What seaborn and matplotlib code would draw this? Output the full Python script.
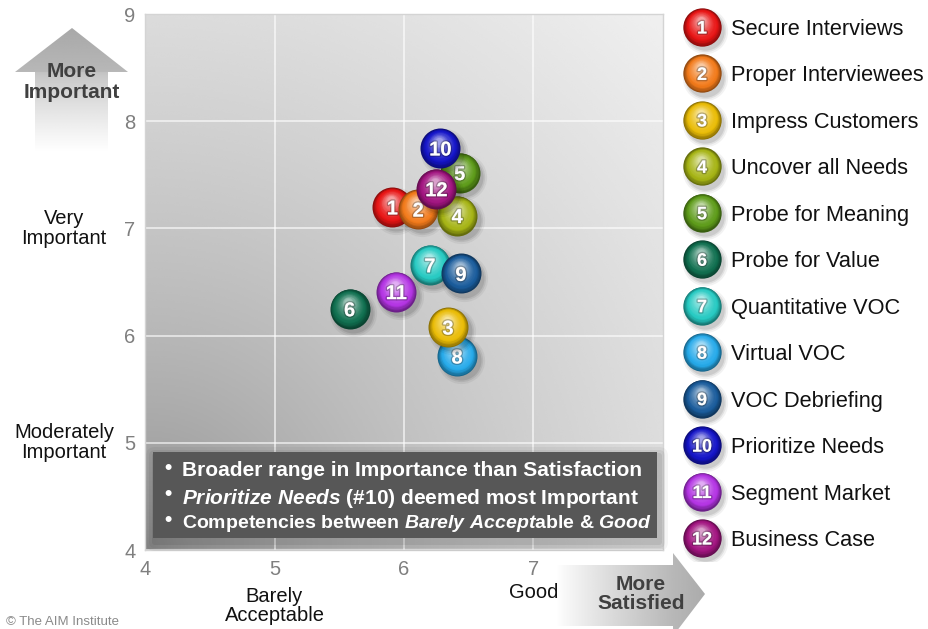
import numpy as np
import pandas as pd
import matplotlib
matplotlib.use("Agg")
import matplotlib.pyplot as plt
import matplotlib.patheffects as pe
from matplotlib.colors import to_rgb
from matplotlib.patches import Polygon, FancyBboxPatch
from matplotlib.transforms import ScaledTranslation
import seaborn as sns

# ---- data -------------------------------------------------------------
ids = [1, 2, 3, 4, 5, 6, 7, 8, 9, 10, 11, 12]
names = ["Secure Interviews", "Proper Interviewees", "Impress Customers",
         "Uncover all Needs", "Probe for Meaning", "Probe for Value",
         "Quantitative VOC", "Virtual VOC", "VOC Debriefing",
         "Prioritize Needs", "Segment Market", "Business Case"]
satisfaction = [5.91, 6.11, 6.34, 6.41, 6.43, 5.58, 6.20, 6.41, 6.44, 6.28, 5.94, 6.25]
importance = [7.20, 7.18, 6.08, 7.12, 7.52, 6.25, 6.66, 5.81, 6.58, 7.75, 6.41, 7.37]
colors = ["#e81414", "#f27a1a", "#eabc06", "#a6b414", "#5e9c1a", "#107050",
          "#26cac2", "#26aaea", "#1a5c9c", "#1414c8", "#b434e4", "#a21480"]
draw_order = [8, 3, 7, 9, 6, 11, 1, 2, 4, 5, 10, 12]

x_ticks = [4, 5, 6, 7]
y_ticks = [4, 5, 6, 7, 8, 9]
y_cats = [("Very\nImportant", 7), ("Moderately\nImportant", 5)]
x_cats = [("Barely\nAcceptable", 5), ("Good", 7)]
notes = [
    r"Broader range in Importance than Satisfaction",
    r"$\mathit{Prioritize\ Needs}$ (#10) deemed most Important",
    r"Competencies between $\mathit{Barely\ Accept}$able & $\mathit{Good}$",
]
note_sizes = [15, 15, 14]

df = pd.DataFrame({"id": ids, "name": names, "satisfaction": satisfaction,
                   "importance": importance, "color": colors})

# ---- style ------------------------------------------------------------
sns.set_theme(style="white")
plt.rcParams["font.family"] = ["Liberation Sans", "DejaVu Sans"]
plt.rcParams["mathtext.fontset"] = "custom"
plt.rcParams["mathtext.it"] = "Liberation Sans:italic:bold"
plt.rcParams["mathtext.rm"] = "Liberation Sans:bold"

W, H = 929, 629
fig = plt.figure(figsize=(W / 100, H / 100), dpi=100)
fig.patch.set_facecolor("white")

# pixel-space helper axes (under and over the chart)
deco = fig.add_axes([0, 0, 1, 1], zorder=-1)
deco.set_xlim(0, W); deco.set_ylim(H, 0); deco.axis("off")

ax = fig.add_axes([145 / W, (H - 550) / H, 518 / W, 536 / H], zorder=1)
ax.set_xlim(4, 8); ax.set_ylim(4, 9)

# shaded background of the plotting area (dark top-left, light bottom-right)
gy, gx = np.mgrid[0:1:300j, 0:1:300j]
dist = np.sqrt(gx ** 2 + gy ** 2) / np.sqrt(2)
shade = 0.52 + 0.42 * dist ** 0.6
ax.imshow(shade, cmap="gray", vmin=0, vmax=1, extent=(4, 8, 9, 4),
          aspect="auto", zorder=0, interpolation="bicubic")
ax.set_ylim(4, 9)
ax.set_xticks(x_ticks)
ax.set_yticks(y_ticks)
ax.grid(True, color="white", alpha=0.6, linewidth=1.4)
for sp in ax.spines.values():
    sp.set_color("#d4d4d4"); sp.set_linewidth(1.0)
ax.tick_params(length=0, labelsize=14.5, labelcolor="#7f7f7f", pad=7)
ax.set_xlabel(""); ax.set_ylabel("")


def sphere(axis, x, y, color, r_pt, z, trans, shadow=True):
    """Glossy ball built from concentric discs."""
    base = np.array(to_rgb(color))
    dark = base * 0.6
    white = np.ones(3)
    if shadow:
        for grow, a in [(1.18, 0.05), (1.08, 0.07), (1.0, 0.09)]:
            off = ScaledTranslation(2.5 / 72, -3.0 / 72, fig.dpi_scale_trans)
            axis.scatter([x], [y], s=(2 * r_pt * grow) ** 2, color="black",
                         alpha=a, linewidths=0, transform=trans + off,
                         zorder=z)
    sns.scatterplot(x=[x], y=[y], ax=axis, s=(2 * r_pt) ** 2, color=dark,
                    linewidth=0, legend=False, zorder=z + 0.001,
                    transform=trans)
    n = 18
    for k in range(1, n):
        t = k / (n - 1)
        rk = r_pt * (1 - 0.82 * t)
        if t < 0.25:
            c = dark + (base - dark) * (t / 0.25)
        else:
            c = base + (white - base) * ((t - 0.25) / 0.75) ** 1.3 * 0.6
        dy = (r_pt - rk) * 0.42
        dx = -(r_pt - rk) * 0.08
        off = ScaledTranslation(dx / 72, dy / 72, fig.dpi_scale_trans)
        axis.scatter([x], [y], s=(2 * rk) ** 2, color=np.clip(c, 0, 1),
                     linewidths=0, transform=trans + off,
                     zorder=z + 0.001 * (k + 1))


num_fx = [pe.withStroke(linewidth=2, foreground=(0, 0, 0, 0.25))]

# bubbles on the chart
for rank, i in enumerate(draw_order):
    row = df[df["id"] == i].iloc[0]
    z = 3 + rank
    sphere(ax, row["satisfaction"], row["importance"], row["color"], 14.4, z,
           ax.transData)
    ax.text(row["satisfaction"], row["importance"], str(i), ha="center",
            va="center_baseline", color="white", fontsize=14.5,
            fontweight="bold", zorder=z + 0.5, path_effects=num_fx)

# legend column
lax = fig.add_axes([680 / W, (H - 561.25) / H, 249 / W, 557.5 / H], zorder=2)
lax.set_xlim(0, 249); lax.set_ylim(11.5, -0.5); lax.axis("off")
for k, (i, name, col) in enumerate(zip(ids, names, colors)):
    sphere(lax, 22, k, col, 13.8, 3 + k * 0.1, lax.transData, shadow=True)
    lax.text(22, k, str(i), ha="center", va="center_baseline", color="white",
             fontsize=13, fontweight="bold", zorder=4 + k * 0.1,
             path_effects=num_fx)
    lax.text(51, k, name, ha="left", va="center_baseline", fontsize=15.7,
             color="#111111", zorder=5)

# axis category captions
for label, val in y_cats:
    py = 550 - (val - 4) * (536 / 5)
    deco.text(64, py, label, ha="center", va="center", fontsize=14.5,
              color="#111111", linespacing=1.05)
for label, val in x_cats:
    px = 145 + (val - 4) * (518 / 4)
    py = 606 if "\n" in label else 593
    deco.text(px, py, label, ha="center", va="center", fontsize=14.5,
              color="#111111", linespacing=1.02)

# "More Important" arrow
up = Polygon([(72, 28), (128, 72), (108, 72), (108, 152), (35, 152),
              (35, 72), (15, 72)], closed=True, facecolor="none",
             edgecolor="none")
deco.add_patch(up)
yy = np.linspace(28, 152, 200)
vals = np.where(yy < 72, 0.66 + 0.06 * (yy - 28) / 44,
                0.76 + 0.24 * ((yy - 72) / 80) ** 0.8)
im = deco.imshow(np.tile(vals[:, None], (1, 10)), cmap="gray", vmin=0, vmax=1,
                 extent=(15, 128, 152, 28), aspect="auto", zorder=1)
im.set_clip_path(up)
deco.text(72, 82, "More\nImportant", ha="center", va="center", fontsize=15,
          fontweight="bold", color="#404040", linespacing=1.12, zorder=2)

# "More Satisfied" arrow
right = Polygon([(556, 565), (673, 565), (673, 553), (705, 594), (673, 636),
                 (673, 626), (556, 626)], closed=True, facecolor="none",
                edgecolor="none")
deco.add_patch(right)
xx = np.linspace(556, 706, 200)
hv = np.where(xx < 673, 1.0 - 0.28 * ((xx - 556) / 117) ** 0.9,
              0.72 - 0.05 * (xx - 673) / 33)
im2 = deco.imshow(np.tile(hv[None, :], (10, 1)), cmap="gray", vmin=0, vmax=1,
                  extent=(556, 706, 636, 552), aspect="auto", zorder=1)
im2.set_clip_path(right)
deco.text(641, 594, "More\nSatisfied", ha="center", va="center", fontsize=15,
          fontweight="bold", color="#404040", linespacing=1.05, zorder=2)

deco.text(6, 622, "© The AIM Institute", ha="left", va="center", fontsize=9.5,
          color="#8a8a8a")

# note box over the chart
top = fig.add_axes([0, 0, 1, 1], zorder=6)
top.set_xlim(0, W); top.set_ylim(H, 0); top.axis("off")
for grow, a in [(9, 0.04), (6, 0.05), (3, 0.07)]:
    top.add_patch(FancyBboxPatch((153 - grow + 2, 452 - grow + 4),
                                 504 + 2 * grow, 86 + 2 * grow,
                                 boxstyle="round,pad=0,rounding_size=%d" % grow,
                                 facecolor="black", alpha=a, edgecolor="none"))
top.add_patch(FancyBboxPatch((153, 452), 504, 86, boxstyle="square,pad=0",
                             facecolor="#575757", edgecolor="none"))
for k, (line, fs) in enumerate(zip(notes, note_sizes)):
    ly = 469 + 26 * k
    top.text(168, ly, "•", ha="center", va="center", fontsize=15,
             color="white", fontweight="bold")
    top.text(182, ly, line, ha="left", va="center_baseline", fontsize=fs,
             color="white", fontweight="bold")

fig.savefig("out.png", dpi=100)
